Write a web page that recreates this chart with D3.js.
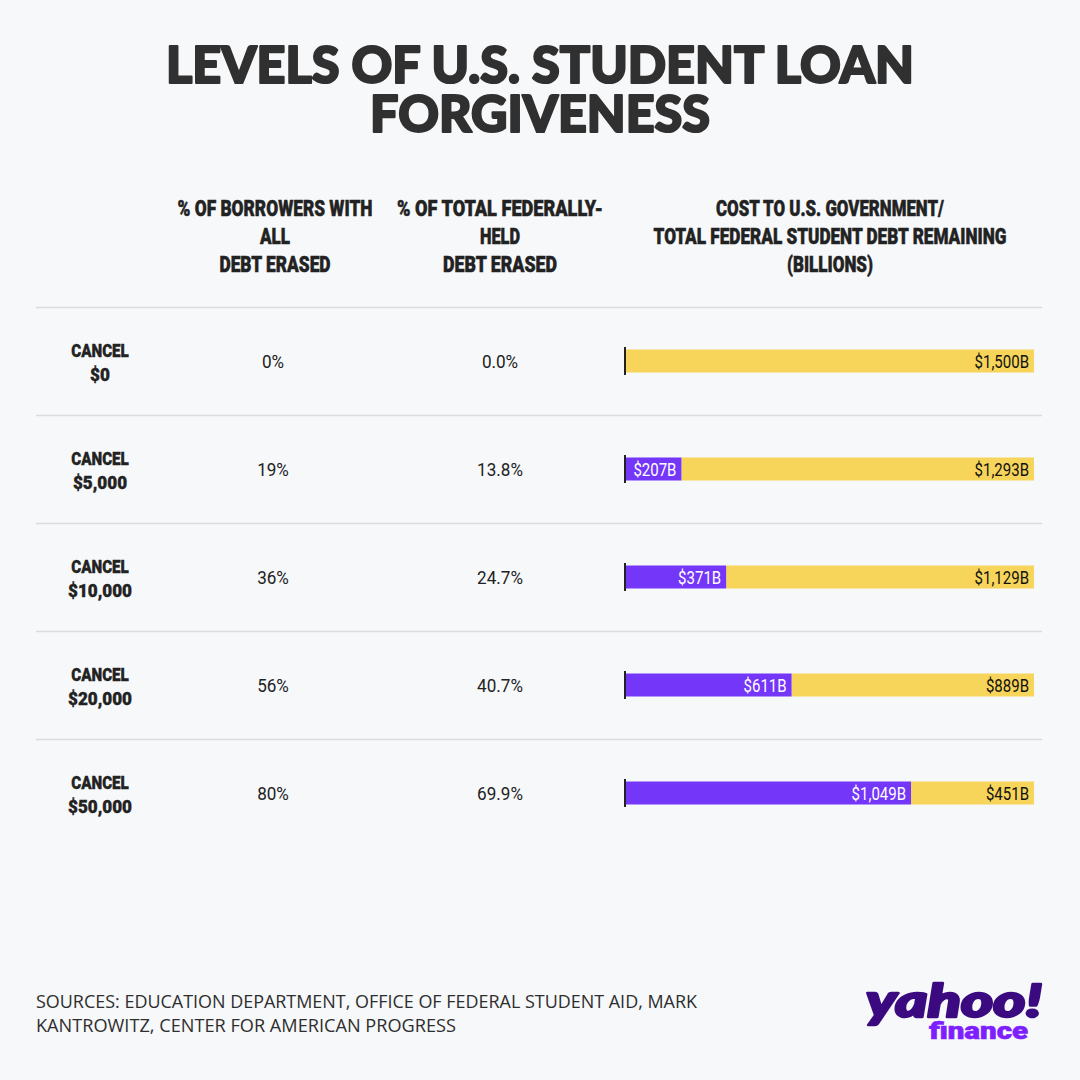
<!DOCTYPE html>
<html><head><meta charset="utf-8">
<script src="https://cdn.jsdelivr.net/npm/d3@7"></script>
<style>
html,body{margin:0;padding:0;background:#f7f8fa;}
svg{display:block;}
</style></head>
<body>
<svg id="c" width="1080" height="1080"></svg>
<script>
const titleLines = ["LEVELS OF U.S. STUDENT LOAN", "FORGIVENESS"];
const headerCol2 = ["% OF BORROWERS WITH", "ALL", "DEBT ERASED"];
const headerCol3 = ["% OF TOTAL FEDERALLY-", "HELD", "DEBT ERASED"];
const headerCol4 = ["COST TO U.S. GOVERNMENT/", "TOTAL FEDERAL STUDENT DEBT REMAINING", "(BILLIONS)"];
const amounts = ["$0", "$5,000", "$10,000", "$20,000", "$50,000"];
const borrowersPct = [0, 19, 36, 56, 80];
const debtPct = [0.0, 13.8, 24.7, 40.7, 69.9];
const costBillions = [0, 207, 371, 611, 1049];
const remainingBillions = [1500, 1293, 1129, 889, 451];
const sourceLines = ["SOURCES: EDUCATION DEPARTMENT, OFFICE OF FEDERAL STUDENT AID, MARK", "KANTROWITZ, CENTER FOR AMERICAN PROGRESS"];

const svg = d3.select("#c");
svg.append("rect").attr("width",1080).attr("height",1080).attr("fill","#f7f8fa");

const NARROW = 'Roboto, "DejaVu Sans Condensed", sans-serif';

// Condense text horizontally: shrink font-size by k and stretch vertically by 1/k,
// so glyph height stays and width is reduced (real bbox matches what is drawn).
function condense(sel, kOrFn){
  sel.each(function(d,i){
    const s = d3.select(this);
    const fs = +s.attr("font-size");
    const x0 = +s.attr("x"), y0 = +s.attr("y");
    const w = this.getComputedTextLength();
    const k = typeof kOrFn === "function" ? kOrFn(w, i) : kOrFn;
    const sw = s.attr("stroke-width");
    s.attr("x",0).attr("y",0).attr("font-size", fs*k)
     .attr("transform", `translate(${x0},${y0}) scale(1,${1/k})`);
    if (sw) s.attr("stroke-width", +sw*k);
  });
  return sel;
}

// Title
const titleW = [748, 340];
titleLines.forEach((t,i)=>{
  svg.append("text").attr("x",540).attr("y",83+i*49)
    .attr("text-anchor","middle")
    .attr("font-family","Lato, 'Open Sans', sans-serif").attr("font-weight",900)
    .attr("font-size",52).attr("fill","#303030")
    .attr("stroke","#303030").attr("stroke-width",2.2).attr("stroke-linejoin","round")
    .attr("textLength",titleW[i]).attr("lengthAdjust","spacingAndGlyphs")
    .text(t);
});

// Headers
function header(lines, cx, ws){
  lines.forEach((t,i)=>{
    const s = svg.append("text").attr("x",cx).attr("y",216+i*28)
      .attr("text-anchor","middle").attr("font-family",NARROW)
      .attr("font-weight",900).attr("font-size",22).attr("fill","#222")
      .attr("stroke","#222").attr("stroke-width",0.5)
      .text(t);
    condense(s, w => ws[i]/w);
  });
}
header(headerCol2,275,[195,30,111]);
header(headerCol3,500,[206,40,114]);
header(headerCol4,830,[228,353,86]);

// Rows
const y = d3.scaleBand().domain(amounts).range([307,847]).paddingInner(0).paddingOuter(0);
const x = d3.scaleLinear().domain([0,1500]).range([625,1034]);
const barH = 23;

const rows = svg.append("g").selectAll("g").data(amounts).join("g")
  .attr("transform",d=>`translate(0,${y(d)})`);

rows.append("line").attr("x1",36).attr("x2",1042).attr("y1",0.5).attr("y2",0.5)
  .attr("stroke","#dcdcdc").attr("stroke-width",1.5);

const mid = y.bandwidth()/2;

condense(rows.append("text").attr("x",100).attr("y",mid-4).attr("text-anchor","middle")
  .attr("font-family",NARROW).attr("font-weight",900).attr("font-size",19).attr("fill","#222")
  .attr("stroke","#222").attr("stroke-width",0.4)
  .text("CANCEL"), 0.8);
condense(rows.append("text").attr("x",100).attr("y",mid+20).attr("text-anchor","middle")
  .attr("font-family",NARROW).attr("font-weight",900).attr("font-size",19).attr("fill","#222")
  .attr("stroke","#222").attr("stroke-width",0.4)
  .text(d=>d), 0.9);

condense(rows.append("text").attr("x",273).attr("y",mid+7).attr("text-anchor","middle")
  .attr("font-family",NARROW).attr("font-size",19).attr("fill","#222")
  .text((d,i)=>borrowersPct[i]+"%"), 0.9);
condense(rows.append("text").attr("x",500).attr("y",mid+7).attr("text-anchor","middle")
  .attr("font-family",NARROW).attr("font-size",19).attr("fill","#222")
  .text((d,i)=>debtPct[i].toFixed(1)+"%"), 0.9);

// remaining (yellow) bars
rows.append("rect").attr("x",(d,i)=>x(costBillions[i])).attr("y",mid-barH/2)
  .attr("width",(d,i)=>x(costBillions[i]+remainingBillions[i])-x(costBillions[i]))
  .attr("height",barH).attr("fill","#f7d45a");
// cost (purple) bars
rows.append("rect").attr("x",x(0)).attr("y",mid-barH/2)
  .attr("width",(d,i)=>x(costBillions[i])-x(0))
  .attr("height",barH).attr("fill","#7436f8");

// labels
const fmt = d3.format(",");
condense(rows.append("text").attr("x",(d,i)=>x(costBillions[i]+remainingBillions[i])-5).attr("y",mid+7)
  .attr("text-anchor","end").attr("font-family",NARROW).attr("font-size",19).attr("fill","#111")
  .text((d,i)=>"$"+fmt(remainingBillions[i])+"B"), 0.79);
condense(rows.filter((d,i)=>costBillions[i]>0).append("text")
  .attr("x",d=>x(costBillions[amounts.indexOf(d)])-5).attr("y",mid+7)
  .attr("text-anchor","end").attr("font-family",NARROW).attr("font-size",19).attr("fill","#ffffff")
  .text(d=>"$"+fmt(costBillions[amounts.indexOf(d)])+"B"), 0.79);

// baseline tick
rows.append("line").attr("x1",x(0)).attr("x2",x(0)).attr("y1",mid-14).attr("y2",mid+14)
  .attr("stroke","#222").attr("stroke-width",2);

// Sources
const srcW = [661, 420];
sourceLines.forEach((t,i)=>{
  svg.append("text").attr("x",36).attr("y",1008+i*24)
    .attr("font-family","'Open Sans', sans-serif").attr("font-weight",400).attr("font-size",18).attr("fill","#2e2e2e")
    .attr("textLength",srcW[i]).attr("lengthAdjust","spacingAndGlyphs")
    .text(t);
});

// Logo
svg.append("text").attr("x",1042).attr("y",1017).attr("text-anchor","end")
  .attr("font-family","Lato, 'Open Sans', sans-serif").attr("font-weight",900)
  .attr("font-style","italic").attr("font-size",46).attr("fill","#3b0a80")
  .attr("stroke","#3b0a80").attr("stroke-width",2.5).attr("stroke-linejoin","round")
  .attr("textLength",176).attr("lengthAdjust","spacingAndGlyphs")
  .text("yahoo!");
svg.append("text").attr("x",1028).attr("y",1039).attr("text-anchor","end")
  .attr("font-family","Roboto, 'Open Sans', sans-serif").attr("font-weight",900)
  .attr("font-size",23).attr("fill","#7e1fff")
  .attr("stroke","#7e1fff").attr("stroke-width",0.6)
  .attr("textLength",99).attr("lengthAdjust","spacingAndGlyphs")
  .text("finance");
</script>
</body></html>
